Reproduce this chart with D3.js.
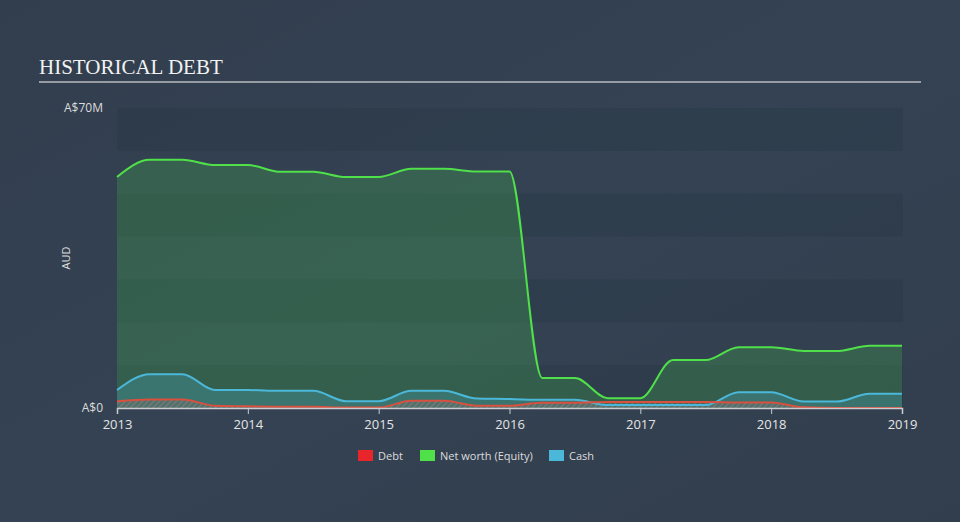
<!DOCTYPE html>
<html><head><meta charset="utf-8">
<script src="https://cdn.jsdelivr.net/npm/d3@7"></script>
<style>
html,body{margin:0;padding:0;background:#333f4f;}
svg{display:block;}
text{font-family:"Open Sans","DejaVu Sans",sans-serif;}
</style></head>
<body>
<script>
const dates = [2013.0,2013.25,2013.5,2013.75,2014.0,2014.25,2014.5,2014.75,2015.0,2015.25,2015.5,2015.75,2016.0,2016.25,2016.5,2016.75,2017.0,2017.25,2017.5,2017.75,2018.0,2018.25,2018.5,2018.75,2019.0];
const netWorth = [53.9,57.9,57.9,56.7,56.7,55.1,55.1,53.9,53.9,55.8,55.8,55.2,55.2,7.0,7.0,2.3,2.3,11.2,11.2,14.2,14.2,13.3,13.3,14.5,14.5];
const cash = [4.2,7.9,7.9,4.2,4.2,4.0,4.0,1.6,1.6,4.0,4.0,2.2,2.1,1.9,1.9,0.7,0.7,0.7,0.7,3.7,3.7,1.5,1.5,3.3,3.3];
const debt = [1.6,2.0,2.0,0.5,0.4,0.3,0.3,0.1,0.1,1.7,1.7,0.55,0.55,1.25,1.25,1.4,1.4,1.4,1.4,1.3,1.3,0.15,0,0,0];
const yearTicks = [2013,2014,2015,2016,2017,2018,2019];
const yTickLabels = ["A$0","A$70M"];
const legendLabels = ["Debt","Net worth (Equity)","Cash"];

const W=960,H=522;
const svg=d3.select("body").append("svg").attr("width",W).attr("height",H);
const defs=svg.append("defs");
const bg=defs.append("linearGradient").attr("id","bg").attr("x1",0).attr("y1",0).attr("x2",1).attr("y2",1);
bg.append("stop").attr("offset","0%").attr("stop-color","#323e4e");
bg.append("stop").attr("offset","50%").attr("stop-color","#344253");
bg.append("stop").attr("offset","100%").attr("stop-color","#323e4d");
svg.append("rect").attr("width",W).attr("height",H).attr("fill","url(#bg)");

const pat=defs.append("pattern").attr("id","hatch").attr("patternUnits","userSpaceOnUse").attr("width",4).attr("height",4).attr("patternTransform","rotate(45)");
pat.append("rect").attr("width",4).attr("height",4).attr("fill","rgba(120,110,110,0.35)");
pat.append("line").attr("x1",0).attr("y1",0).attr("x2",0).attr("y2",4).attr("stroke","rgba(200,130,120,0.6)").attr("stroke-width",1.5);

const x=d3.scaleLinear().domain([2013,2019]).range([117,902]);
const y=d3.scaleLinear().domain([0,70]).range([408,108]);

// bands
const bands=[0,20,40,60];
svg.append("g").selectAll("rect").data(bands).join("rect")
  .attr("x",117).attr("width",903-117)
  .attr("y",d=>y(d+10)).attr("height",d=>y(d)-y(d+10))
  .attr("fill","rgba(20,30,45,0.12)");

// title
svg.append("text").attr("x",39).attr("y",74).text("HISTORICAL DEBT")
  .attr("font-size",21).attr("fill","#f2f2f2").style("font-family","'Liberation Serif',serif");
svg.append("line").attr("x1",39).attr("x2",921).attr("y1",82).attr("y2",82).attr("stroke","#b8bbc0").attr("stroke-width",1.5);

const pts=(arr)=>dates.map((d,i)=>[d,arr[i]]);
const area=d3.area().x(d=>x(d[0])).y0(y(0)).y1(d=>y(d[1])).curve(d3.curveMonotoneX);
const line=d3.line().x(d=>x(d[0])).y(d=>y(d[1])).curve(d3.curveMonotoneX);

svg.append("path").attr("d",area(pts(netWorth))).attr("fill","rgba(72,200,80,0.24)");
svg.append("path").attr("d",area(pts(cash))).attr("fill","rgba(74,184,216,0.25)");
svg.append("path").attr("d",area(pts(debt))).attr("fill","url(#hatch)");

svg.append("path").attr("d",line(pts(netWorth))).attr("fill","none").attr("stroke","#4fe04a").attr("stroke-width",2);
svg.append("path").attr("d",line(pts(cash))).attr("fill","none").attr("stroke","#4bb8d9").attr("stroke-width",2);
svg.append("path").attr("d",line(pts(debt))).attr("fill","none").attr("stroke","#d9503f").attr("stroke-width",2);

// axis
const ax=svg.append("g").attr("transform",`translate(0,${y(0)})`).call(d3.axisBottom(x).tickValues(yearTicks).tickFormat(d3.format("d")).tickSize(6).tickPadding(6));
ax.select(".domain").attr("stroke","#c9ccd0").attr("stroke-width",1.5);
ax.selectAll(".tick line").attr("stroke","#c9ccd0");
ax.selectAll(".tick text").attr("fill","#e4e4e4").attr("font-size",13).attr("font-family","'Open Sans',sans-serif");

svg.append("g").selectAll("text").data([0,70]).join("text")
  .attr("x",103).attr("y",d=>y(d)+4).attr("text-anchor","end")
  .attr("fill","#dcdcdc").attr("font-size",12).text((d,i)=>yTickLabels[i]);

svg.append("text").attr("transform","translate(70,258) rotate(-90)").attr("text-anchor","middle")
  .attr("fill","#dcdcdc").attr("font-size",11).text("AUD");

// legend
const legColors=["#e8262a","#4fe04a","#4bb8d9"];
const legX=[358,420,549];
const lg=svg.append("g");
legendLabels.forEach((l,i)=>{
  lg.append("rect").attr("x",legX[i]).attr("y",450).attr("width",15).attr("height",11).attr("fill",legColors[i]);
  lg.append("text").attr("x",legX[i]+20).attr("y",460).attr("fill","#dcdcdc").attr("font-size",11).text(l);
});
</script>
</body></html>
